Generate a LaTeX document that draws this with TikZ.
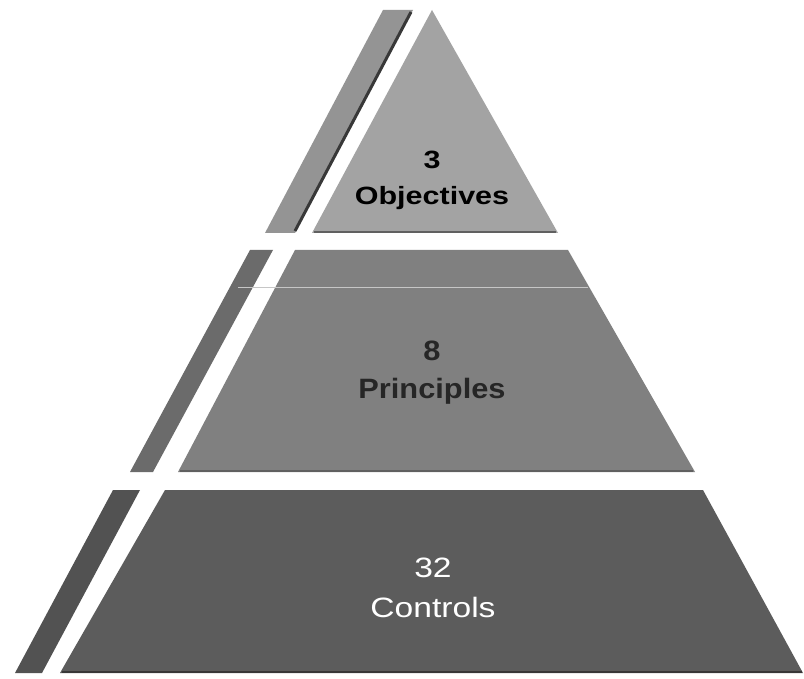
\documentclass[tikz,border=0pt]{standalone}
\usepackage{fontspec}
\setmainfont{Liberation Sans}
\begin{document}
\begin{tikzpicture}[x=1pt,y=-1pt,
  tier/.style={line join=round},
  label/.style={align=center, inner sep=0pt}]
\definecolor{topfill}{gray}{0.64}
\definecolor{topstrip}{gray}{0.58}
\definecolor{midfill}{gray}{0.50}
\definecolor{midstrip}{gray}{0.42}
\definecolor{botfill}{gray}{0.36}
\definecolor{botstrip}{gray}{0.32}
\definecolor{edge}{gray}{0.22}
\useasboundingbox[fill=white] (0,0) rectangle (804,679);

% top tier: triangle and its side strip
\fill[topstrip, tier] (383,10) -- (413,10) -- (295,233) -- (265,233) -- cycle;
\draw[edge, line width=3pt] (411,12) -- (295,231);
\fill[topfill, tier] (432,10) -- (558,233) -- (312,233) -- cycle;
\draw[edge!80, line width=2.5pt] (314,232) -- (556,232);

% middle tier
\fill[midstrip, tier] (250,250) -- (273,250) -- (153,472) -- (130,472) -- cycle;
\fill[midfill, tier] (295,250) -- (568,250) -- (695,472) -- (178,472) -- cycle;
\draw[edge!80, line width=2.5pt] (180,471) -- (693,471);
\draw[gray!45, line width=0.8pt] (238,287) -- (588,287);

% bottom tier
\fill[botstrip, tier] (113,490) -- (140,490) -- (42,673) -- (15,673) -- cycle;
\fill[botfill, tier] (165,490) -- (703,490) -- (803,673) -- (60,673) -- cycle;
\draw[edge, line width=2pt] (62,672) -- (802,672);

% tier labels
\node[label, text=black, font=\bfseries\fontsize{25}{36}\selectfont] (obj) at (432,180)
  {\scalebox{1.22}[1]{3}\\\scalebox{1.22}[1]{Objectives}};
\node[label, text=black!85, font=\bfseries\fontsize{28}{38}\selectfont] (pri) at (432,373)
  {\scalebox{1.1}[1]{8}\\\scalebox{1.1}[1]{Principles}};
\node[label, text=white, font=\fontsize{28}{40}\selectfont] (ctl) at (433,588)
  {\scalebox{1.2}[1]{32}\\\scalebox{1.2}[1]{Controls}};
\end{tikzpicture}
\end{document}
